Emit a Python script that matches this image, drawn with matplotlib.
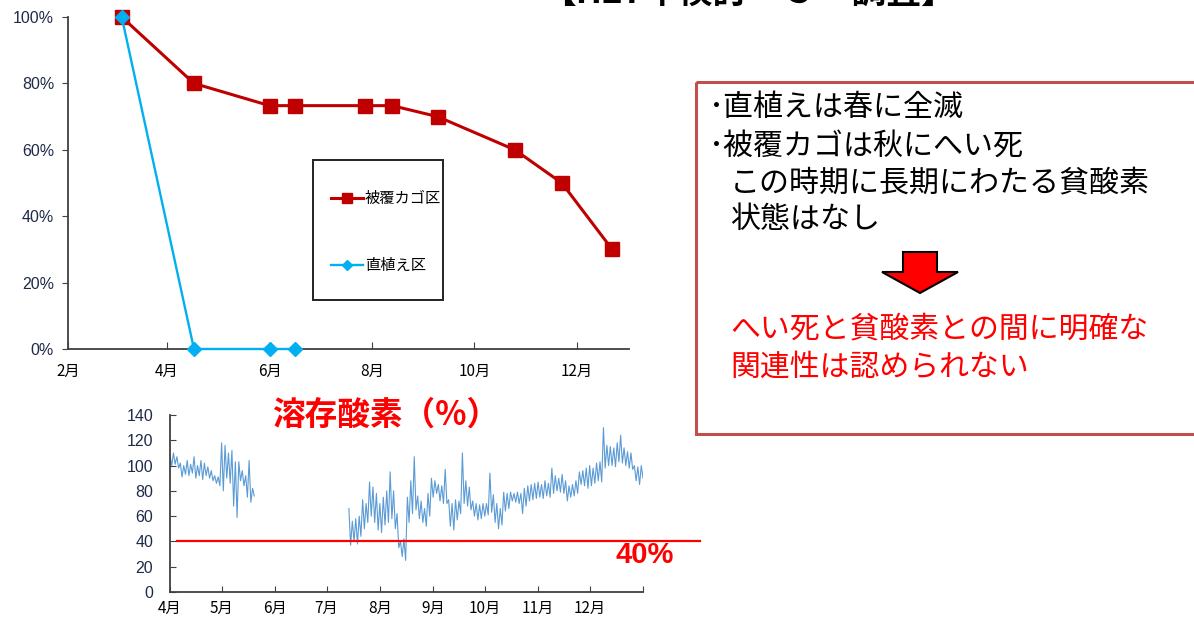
import matplotlib
matplotlib.use('Agg')
import matplotlib.pyplot as plt
from matplotlib.patches import Rectangle, Polygon
import numpy as np
import pandas as pd

plt.rcParams['font.family'] = ['Noto Sans CJK JP', 'DejaVu Sans']

# survival rate by survey date (H27 = 2015)
cover_dates = ['2015-03-05', '2015-04-17', '2015-06-01', '2015-06-16', '2015-07-28',
               '2015-08-13', '2015-09-09', '2015-10-25', '2015-11-22', '2015-12-22']
cover_rate = [1.0, 0.80, 0.733, 0.733, 0.733, 0.733, 0.70, 0.60, 0.50, 0.30]
direct_dates = ['2015-03-05', '2015-04-17', '2015-06-01', '2015-06-16']
direct_rate = [1.0, 0.0, 0.0, 0.0]

# dissolved oxygen (%), daily low / high every 2 days
do_spring_start = '2015-04-01'
do_spring_low = [100, 101, 98, 91, 93, 92, 94, 90, 92, 89, 92, 90, 88, 86, 84, 80, 90, 86,
                 68, 59, 88, 84, 75, 71, 76]
do_spring_high = [108, 110, 107, 102, 100, 104, 101, 107, 100, 104, 102, 99, 96, 92, 91, 118,
                  116, 110, 112, 103, 103, 96, 92, 104, 82]
do_summer_start = '2015-07-14'
do_summer_low = [37, 40, 38, 44, 50, 55, 60, 55, 49, 47,
                 53, 55, 58, 50, 35, 28, 25, 55, 62, 65,
                 58, 55, 52, 60, 75, 78, 72, 70, 70, 52,
                 49, 57, 62, 70, 68, 65, 60, 57, 58, 60,
                 61, 63, 55, 50, 53, 64, 66, 72, 71, 70,
                 62, 68, 72, 73, 74, 75, 74, 76, 75, 78,
                 80, 79, 78, 72, 75, 76, 78, 85, 84, 82,
                 84, 86, 88, 87, 98, 100, 100, 99, 103, 102,
                 100, 98, 97, 88, 85, 90]
do_summer_high = [66, 56, 58, 60, 73, 70, 87, 83, 78, 70,
                  75, 80, 95, 80, 62, 40, 42, 75, 88, 107,
                  76, 72, 66, 78, 90, 88, 85, 84, 97, 73,
                  70, 73, 72, 110, 88, 83, 72, 70, 69, 70,
                  70, 94, 77, 70, 66, 79, 78, 79, 78, 79,
                  78, 82, 84, 85, 86, 87, 85, 88, 86, 98,
                  92, 90, 93, 88, 84, 85, 88, 95, 96, 98,
                  100, 98, 102, 103, 130, 116, 115, 114, 118, 124,
                  114, 111, 110, 100, 99, 100]
do_threshold = 40
threshold_span = ['2015-04-05', '2016-02-03']

survival_ticks = ['2015-02-01', '2015-04-01', '2015-06-01', '2015-08-01', '2015-10-01', '2015-12-01']
do_ticks = ['2015-04-01', '2015-05-01', '2015-06-01', '2015-07-01', '2015-08-01',
            '2015-09-01', '2015-10-01', '2015-11-01', '2015-12-01']

W, H = 1194, 621
fig = plt.figure(figsize=(W / 100, H / 100), dpi=100)
navy = '#1f2a48'
spine_c = '#404040'


def px_axes(x0, y0, x1, y1):
    return fig.add_axes([x0 / W, 1 - y1 / H, (x1 - x0) / W, (y1 - y0) / H])


# ---- survival chart ----
ax = px_axes(68, 17, 629, 349)
cd = pd.to_datetime(cover_dates)
dd = pd.to_datetime(direct_dates)
ax.plot(cd, cover_rate, '-s', color='#c00000', lw=2.2, ms=10, label='被覆カゴ区', clip_on=False, zorder=3)
ax.plot(dd, direct_rate, '-D', color='#00b0f0', lw=1.7, ms=7, label='直植え区', clip_on=False, zorder=4)
ax.set_xlim(pd.Timestamp('2015-02-01'), pd.Timestamp('2016-01-01'))
ax.set_ylim(0, 1)
ax.set_yticks(np.arange(0, 1.01, 0.2))
ax.set_yticklabels(['%d%%' % round(v * 100) for v in np.arange(0, 1.01, 0.2)],
                   family='Liberation Sans', fontsize=11.5, color=navy)
ax.set_xticks(pd.to_datetime(survival_ticks))
ax.set_xticklabels(['%d月' % pd.Timestamp(t).month for t in survival_ticks], fontsize=11)
ax.tick_params(axis='x', direction='in', length=5, color=spine_c, pad=10)
ax.tick_params(axis='y', direction='out', length=4, color=spine_c, pad=6)
for s in ['top', 'right']:
    ax.spines[s].set_visible(False)
for s in ['left', 'bottom']:
    ax.spines[s].set_color(spine_c)
    ax.spines[s].set_linewidth(1.3)
leg = ax.legend(loc='upper left', bbox_to_anchor=((331 - 68) / 561, 1 - (190 - 17) / 332),
                fontsize=11, frameon=False, labelspacing=3.3, borderpad=0,
                handlelength=2.1, handletextpad=0.1, borderaxespad=0, markerscale=0.75)

# ---- dissolved oxygen chart ----
bx = px_axes(170, 415, 643, 592)


def zigzag(start, low, high):
    days = pd.date_range(start, periods=len(low), freq='2D')
    t = np.empty(2 * len(low), dtype='datetime64[ns]')
    v = np.empty(2 * len(low))
    t[0::2] = days.values
    t[1::2] = (days + pd.Timedelta(days=1)).values
    v[0::2] = high
    v[1::2] = low
    return t, v


for start, lo, hi in [(do_spring_start, do_spring_low, do_spring_high),
                      (do_summer_start, do_summer_low, do_summer_high)]:
    t, v = zigzag(start, lo, hi)
    bx.plot(t, v, color='#5b9bd5', lw=0.8)

bx.plot(pd.to_datetime(threshold_span), [do_threshold, do_threshold], color='#ff0000',
        lw=1.6, clip_on=False)
bx.set_xlim(pd.Timestamp('2015-04-01'), pd.Timestamp('2016-01-01'))
bx.set_ylim(0, 140)
bx.set_yticks(range(0, 141, 20))
bx.set_yticklabels([str(v) for v in range(0, 141, 20)], family='Liberation Sans',
                   fontsize=11.5, color=navy)
bx.set_xticks(pd.to_datetime(do_ticks + ['2016-01-01']))
bx.set_xticklabels(['%d月' % pd.Timestamp(t).month for t in do_ticks] + [''], fontsize=11)
bx.tick_params(direction='in', length=4, color=spine_c)
bx.tick_params(axis='x', pad=6)
bx.tick_params(axis='y', pad=12)
for s in ['top', 'right']:
    bx.spines[s].set_visible(False)
for s in ['left', 'bottom']:
    bx.spines[s].set_color(spine_c)
    bx.spines[s].set_linewidth(1.3)

# ---- overlay for titles, notes and arrow (pixel coordinates) ----
ov = fig.add_axes([0, 0, 1, 1], zorder=5)
ov.set_xlim(0, W)
ov.set_ylim(H, 0)
ov.axis('off')
ov.patch.set_alpha(0)

ov.text(748, -8, '【H27年検討－３－調査】', fontsize=25, fontweight='bold', ha='center', va='center')

# legend frame
ov.add_patch(Rectangle((313, 160), 130, 140, fill=False, edgecolor='#222222', lw=1.4))

ov.text(386, 415, '溶存酸素（%）', fontsize=23.5, fontweight='bold', color='#ff0000',
        ha='center', va='center')
ov.text(645, 555, '40%', fontsize=21, fontweight='bold', color='#ff0000', ha='center',
        va='center', family='Liberation Sans')

ov.add_patch(Rectangle((696, 82), 520, 352, fill=False, edgecolor='#c0504d', lw=2.2))
note_lines = [('･直植えは春に全滅', 708, 107), ('･被覆カゴは秋にへい死', 708, 146),
              ('この時期に長期にわたる貧酸素', 730, 183), ('状態はなし', 730, 219)]
for s, x, y in note_lines:
    ov.text(x, y, s, fontsize=21.6, ha='left', va='center', color='black')
ov.add_patch(Polygon([(903, 252), (937, 252), (937, 272), (958, 272), (920, 293),
                      (882, 272), (903, 272)], closed=True, facecolor='#ff0000',
                     edgecolor='black', lw=1.5))
ov.text(730, 329, 'へい死と貧酸素との間に明確な', fontsize=21.5, color='#ff0000', ha='left', va='center')
ov.text(730, 367, '関連性は認められない', fontsize=21.5, color='#ff0000', ha='left', va='center')

fig.savefig('out.png', dpi=100)
